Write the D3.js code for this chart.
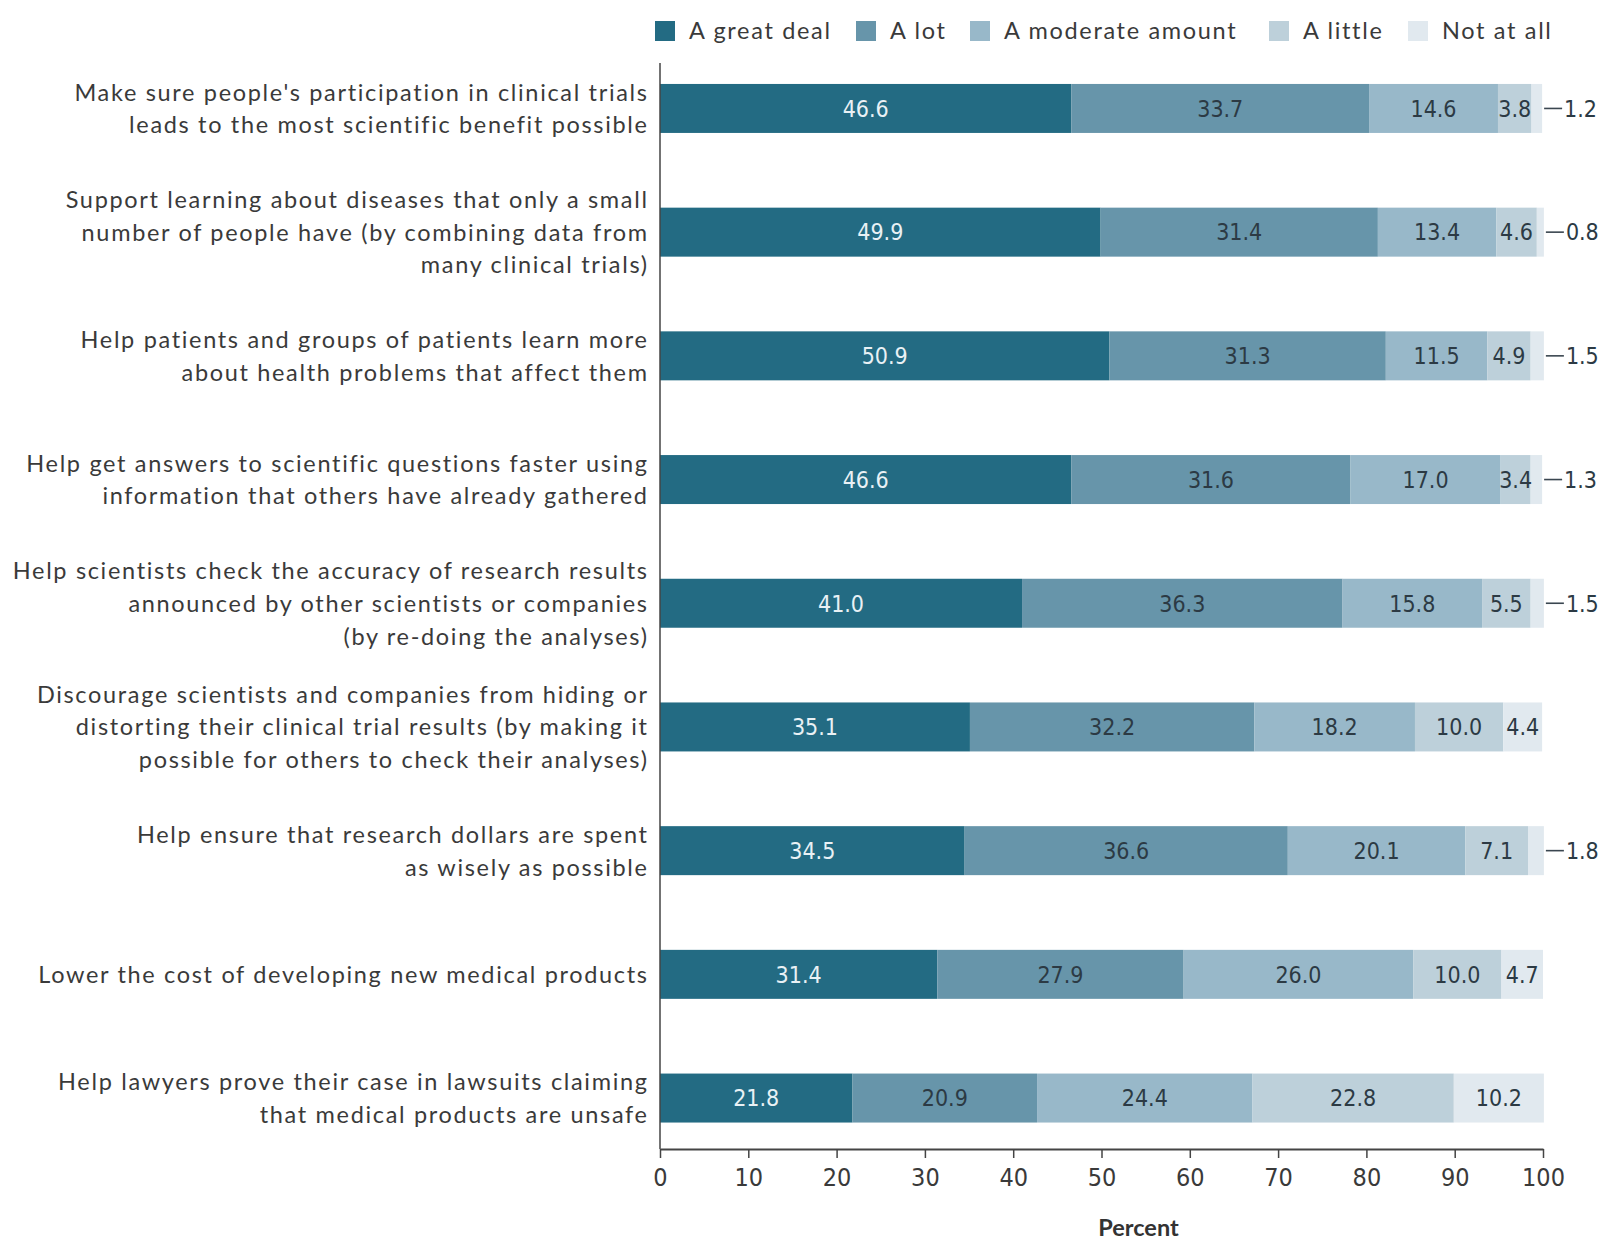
<!DOCTYPE html>
<html>
<head>
<meta charset="utf-8">
<script src="https://cdn.jsdelivr.net/npm/d3@7"></script>
<style>
  html, body { margin: 0; padding: 0; background: #fff; }
  svg { display: block; }
</style>
</head>
<body>
<svg id="chart" width="1605" height="1247"></svg>
<script>
// ---------- DATA ----------
const categories = [
  ["Make sure people's participation in clinical trials", "leads to the most scientific benefit possible"],
  ["Support learning about diseases that only a small", "number of people have (by combining data from", "many clinical trials)"],
  ["Help patients and groups of patients learn more", "about health problems that affect them"],
  ["Help get answers to scientific questions faster using", "information that others have already gathered"],
  ["Help scientists check the accuracy of research results", "announced by other scientists or companies", "(by re-doing the analyses)"],
  ["Discourage scientists and companies from hiding or", "distorting their clinical trial results (by making it", "possible for others to check their analyses)"],
  ["Help ensure that research dollars are spent", "as wisely as possible"],
  ["Lower the cost of developing new medical products"],
  ["Help lawyers prove their case in lawsuits claiming", "that medical products are unsafe"]
];
const seriesNames = ["A great deal", "A lot", "A moderate amount", "A little", "Not at all"];
const greatDeal  = [46.6, 49.9, 50.9, 46.6, 41.0, 35.1, 34.5, 31.4, 21.8];
const aLot       = [33.7, 31.4, 31.3, 31.6, 36.3, 32.2, 36.6, 27.9, 20.9];
const moderate   = [14.6, 13.4, 11.5, 17.0, 15.8, 18.2, 20.1, 26.0, 24.4];
const aLittle    = [3.8, 4.6, 4.9, 3.4, 5.5, 10.0, 7.1, 10.0, 22.8];
const notAtAll   = [1.2, 0.8, 1.5, 1.3, 1.5, 4.4, 1.8, 4.7, 10.2];
const xTicks = [0, 10, 20, 30, 40, 50, 60, 70, 80, 90, 100];
const xTitle = "Percent";

// ---------- STYLE ----------
const colors = ["#236b83", "#6795aa", "#98b8c9", "#bdd0da", "#e1e9ef"];
const labelFont = "Lato, 'Open Sans', sans-serif";
const numFont = "'Liberation Sans Narrow', 'DejaVu Sans Condensed', sans-serif";

const svg = d3.select("#chart");
const series = [greatDeal, aLot, moderate, aLittle, notAtAll];
const rows = categories.map((c, i) => {
  const r = { idx: i, label: c };
  seriesNames.forEach((s, k) => r[s] = series[k][i]);
  return r;
});
const stacked = d3.stack().keys(seriesNames)(rows);

const x = d3.scaleLinear().domain([0, 100]).range([660, 1543]);
const y = d3.scaleBand().domain(d3.range(categories.length))
  .range([46.6, 1159.9]).paddingInner(0.604).paddingOuter(0.302);

// bars
const layers = svg.append("g").selectAll("g").data(stacked).join("g")
  .attr("fill", (d, k) => colors[k]);
layers.selectAll("rect").data(d => d).join("rect")
  .attr("x", d => x(d[0]))
  .attr("width", d => x(d[1]) - x(d[0]))
  .attr("y", (d, i) => y(i))
  .attr("height", y.bandwidth());

// value labels
stacked.forEach((layer, k) => {
  layer.forEach((d, i) => {
    const v = d[1] - d[0];
    const cy = y(i) + y.bandwidth() / 2;
    if (v >= 3) {
      svg.append("text")
        .attr("x", (x(d[0]) + x(d[1])) / 2)
        .attr("y", cy)
        .attr("dy", "0.36em")
        .attr("text-anchor", "middle")
        .attr("font-family", numFont)
        .attr("font-size", 23)
        .attr("fill", k === 0 ? "#e9f1f5" : "#2c3a44")
        .text(v.toFixed(1));
    } else {
      const end = x(d[1]);
      svg.append("line")
        .attr("x1", end + 2).attr("x2", end + 20)
        .attr("y1", cy).attr("y2", cy)
        .attr("stroke", "#3a4650").attr("stroke-width", 1.6);
      svg.append("text")
        .attr("x", end + 22)
        .attr("y", cy)
        .attr("dy", "0.36em")
        .attr("font-family", numFont)
        .attr("font-size", 23)
        .attr("fill", "#2c3a44")
        .text(v.toFixed(1));
    }
  });
});

// category labels (letter-spacing fitted so the first line spans the same width as the original)
const labelSize = 23.5;
const probe = svg.append("text").attr("font-family", labelFont).attr("font-size", labelSize)
  .text(categories[0][0]);
const baseW = probe.node().getComputedTextLength();
probe.remove();
const targetW = 575;
const ls = (targetW - baseW) / categories[0][0].length;

const lineH = 32.8;
categories.forEach((lines, i) => {
  const cy = y(i) + y.bandwidth() / 2;
  const t = svg.append("text")
    .attr("text-anchor", "end")
    .attr("font-family", labelFont)
    .attr("font-size", labelSize)
    .attr("letter-spacing", ls)
    .attr("fill", "#3a3a3a");
  lines.forEach((ln, j) => {
    t.append("tspan")
      .attr("x", 647 + ls)
      .attr("y", cy + (j - (lines.length - 1) / 2) * lineH)
      .attr("dy", "0.36em")
      .text(ln);
  });
});

// y axis line
svg.append("line")
  .attr("x1", 660).attr("x2", 660)
  .attr("y1", 63).attr("y2", 1149)
  .attr("stroke", "#444").attr("stroke-width", 1.5);

// x axis
const xAxis = svg.append("g")
  .attr("transform", "translate(0,1149)")
  .call(d3.axisBottom(x).tickValues(xTicks).tickSize(9).tickSizeOuter(0).tickFormat(d3.format("d")));
xAxis.select(".domain").attr("stroke", "#444").attr("stroke-width", 2);
xAxis.selectAll(".tick line").attr("stroke", "#444").attr("stroke-width", 1.5);
xAxis.selectAll(".tick text")
  .attr("font-family", numFont)
  .attr("font-size", 25)
  .attr("fill", "#3a3a3a")
  .attr("dy", "1.0em");

svg.append("text")
  .attr("x", x(50) + 37)
  .attr("y", 1228)
  .attr("dy", "0.36em")
  .attr("text-anchor", "middle")
  .attr("font-family", labelFont)
  .attr("font-weight", "bold")
  .attr("font-size", 23.5)
  .attr("fill", "#333")
  .text(xTitle);

// legend
const legendX = [655, 856, 970, 1269, 1408];
const legend = svg.append("g");
seriesNames.forEach((s, k) => {
  legend.append("rect")
    .attr("x", legendX[k]).attr("y", 21)
    .attr("width", 20).attr("height", 20)
    .attr("fill", colors[k]);
  legend.append("text")
    .attr("x", legendX[k] + 34).attr("y", 31)
    .attr("dy", "0.36em")
    .attr("font-family", labelFont)
    .attr("font-size", labelSize)
    .attr("letter-spacing", ls)
    .attr("fill", "#3a3a3a")
    .text(s);
});
</script>
</body>
</html>
